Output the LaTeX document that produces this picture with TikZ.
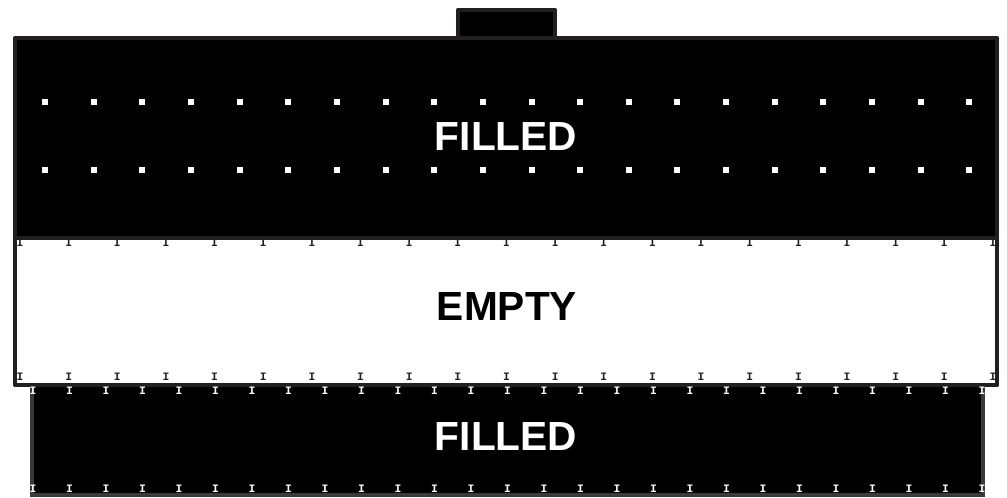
\documentclass[tikz,border=0pt]{standalone}
\usepackage{fontspec}
\setmainfont{Liberation Sans}
\newfontfamily\markfont{Liberation Mono}
\definecolor{wallcolor}{HTML}{231F20}
\definecolor{lowercolor}{HTML}{3A3A3A}
\tikzset{
  tank wall/.style={draw=wallcolor,line width=3.4pt,line join=round},
  lower wall/.style={draw=lowercolor,line width=2.8pt},
  zone label/.style={font=\bfseries\fontsize{30.5}{30.5}\selectfont,inner sep=0pt},
  dark mark/.style={font=\markfont\bfseries\fontsize{8.5}{8.5}\selectfont,text=wallcolor,inner sep=0pt},
  light mark/.style={dark mark,text=white}
}

\begin{document}
\begin{tikzpicture}[x=0.75pt,y=-0.75pt]
  \useasboundingbox (0,0) rectangle (1007,497);
  % lower filled block
  \filldraw[fill=black,lower wall] (32,385) rectangle (983,495);
  % cap on top
  \filldraw[fill=black,tank wall] (458,10) rectangle (555,38);
  % main tank
  \fill[black] (15,38) rectangle (997,238);
  \fill[white] (15,238) rectangle (997,385);
  \draw[tank wall] (15,238) -- (997,238);
  \draw[tank wall] (15,38) rectangle (997,385);
  % dots in the upper layer
  \foreach \i in {0,...,19}{
    \fill[white] ({45+48.65*\i-3},98.5) rectangle ++(6,6);
    \fill[white] ({45+48.65*\i-3},167) rectangle ++(6,6);
  }
  % markers
  \foreach \i in {0,...,20}{
    \node[dark mark] (mt\i) at ({20+48.65*\i},242.5) {I};
    \node[dark mark] (mb\i) at ({20+48.65*\i},377) {I};
  }
  \foreach \i in {0,...,26}{
    \node[light mark] (lt\i) at ({33+36.5*\i},391) {I};
    \node[light mark] (lb\i) at ({33+36.5*\i},488.5) {I};
  }
  \node[zone label,text=white] (upper) at (506,137) {FILLED};
  \node[zone label,text=black] (middle) at (507,307) {EMPTY};
  \node[zone label,text=white] (lower) at (506,437) {FILLED};
\end{tikzpicture}
\end{document}
